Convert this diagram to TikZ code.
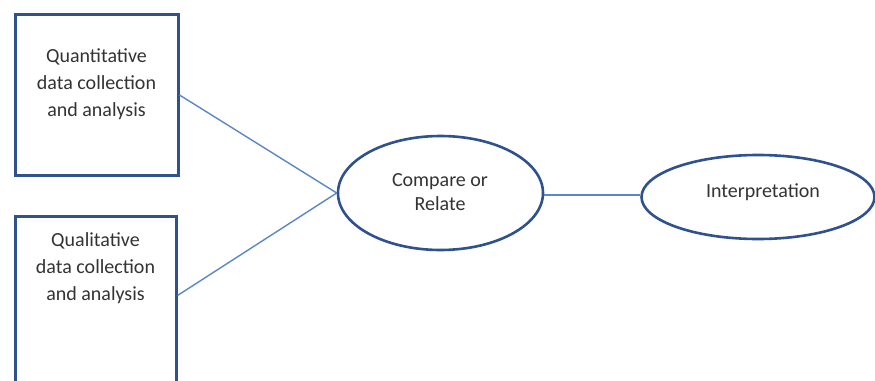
\documentclass[tikz,border=0pt]{standalone}
\usepackage{fontspec}
\setmainfont{Carlito}
\usetikzlibrary{shapes.geometric,calc}
\definecolor{boxblue}{HTML}{2F528F}
\definecolor{lineblue}{HTML}{5B86C8}
\definecolor{txt}{HTML}{333333}
\tikzset{
  boxnode/.style={draw=boxblue, line width=3pt, rectangle, inner sep=0pt, fill=white},
  ellnode/.style={draw=boxblue, line width=2.6pt, ellipse, inner sep=0pt, fill=white},
  label/.style={text=txt, font=\fontsize{20}{27}\selectfont, align=center, inner sep=0pt},
  conn/.style={draw=lineblue, line width=1.4pt}
}
\begin{document}
\begin{tikzpicture}[x=1pt,y=-1pt]
\clip (0,0) rectangle (875,380);
\fill[white] (0,0) rectangle (875,380);
\node[boxnode, minimum width=163pt, minimum height=161pt] (qt) at (96.5,95) {};
\node[boxnode, minimum width=161pt, minimum height=244pt] (ql) at (95.5,338) {};
\node[ellnode, minimum width=205pt, minimum height=114pt] (cr) at (440.5,193) {};
\node[ellnode, minimum width=233pt, minimum height=84pt] (ip) at (758,197) {};
\coordinate (qlout) at ($(ql.north east)+(0,81)$);
\draw[conn] (qt.east) -- (cr.west);
\draw[conn] (qlout) -- (cr.west);
\draw[conn] ([yshift=-2pt]cr.east) -- ([yshift=-2pt]cr.east -| ip.west);
\node[label] (qttext) at (96.5,84) {Quantitative\\data collection\\and analysis};
\node[label] (qltext) at (95.5,268) {Qualitative\\data collection\\and analysis};
\node[label, font=\fontsize{20}{24}\selectfont] (crtext) at (440,192) {Compare or\\Relate};
\node[label] (iptext) at (763,192) {Interpretation};
\end{tikzpicture}
\end{document}
